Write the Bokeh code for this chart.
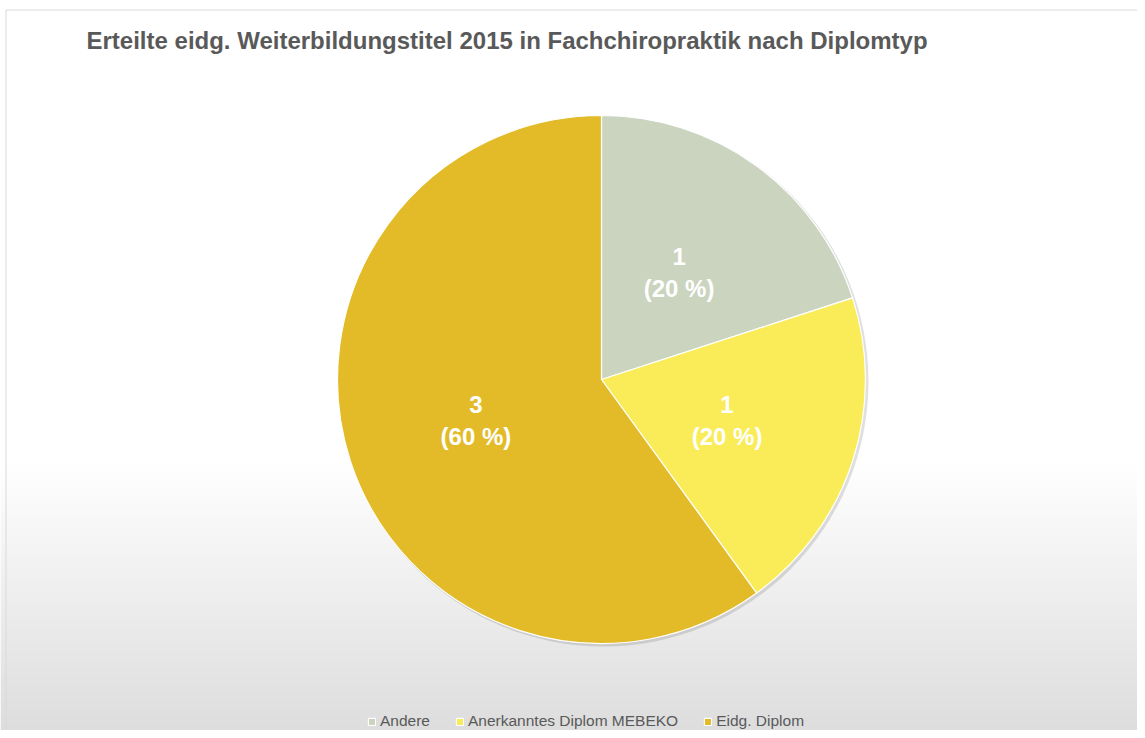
import numpy as np
from bokeh.plotting import figure
from bokeh.models import Range1d, Legend, LegendItem, ColumnDataSource, Label
from bokeh.core.properties import value
from bokeh.embed import file_html
from bokeh.resources import INLINE

# ---- data ----
categories = ["Andere", "Anerkanntes Diplom MEBEKO", "Eidg. Diplom"]
counts = [1, 1, 3]
colors = ["#CAD4BF", "#FAEC58", "#E3BB28"]
title_text = "Erteilte eidg. Weiterbildungstitel 2015 in Fachchiropraktik nach Diplomtyp"

W, H = 1137, 730
p = figure(width=W, height=H, x_range=Range1d(0, W), y_range=Range1d(0, H),
           output_backend="svg", toolbar_location=None, min_border=0,
           match_aspect=False)
p.axis.visible = False
p.xgrid.visible = False
p.ygrid.visible = False
p.outline_line_color = None
p.background_fill_color = "white"
p.border_fill_color = "white"

# background gradient (white at top, fading to light grey at bottom)
n = 400
rows = np.zeros((n, 1), dtype=np.uint32)
view = rows.view(dtype=np.uint8).reshape((n, 1, 4))
for i in range(n):
    frac_from_bottom = i / (n - 1)  # 0 bottom, 1 top
    ys = H * (1 - frac_from_bottom)
    if ys <= 460:
        c = 255
    else:
        t = (ys - 460) / (738 - 460)
        c = int(round(255 - t * (255 - 220)))
    view[i, 0, 0] = c
    view[i, 0, 1] = c
    view[i, 0, 2] = c
    view[i, 0, 3] = 255
p.image_rgba(image=[rows], x=0, y=0, dw=W, dh=H)

# border
p.quad(left=[5.5], right=[W + 5], bottom=[-5], top=[H - 9.5],
       fill_color=None, line_color="#D9D9D9", line_width=1)

# title
p.add_layout(Label(x=86, y=H - 40, text=title_text, text_font="Liberation Sans",
                   text_font_style="bold", text_font_size="24px", text_color="#595959",
                   text_baseline="middle", text_align="left"))

# pie
cx, cy, r = 601, H - 379, 264
vals = np.array(counts, dtype=float)
frac = vals / vals.sum()
ends = np.pi / 2 - 2 * np.pi * np.cumsum(frac)
starts = np.concatenate([[np.pi / 2], ends[:-1]])
mids = (starts + ends) / 2

# subtle shadow
p.circle(x=[cx + 2], y=[cy - 2], radius=r + 1, fill_color="#000000", fill_alpha=0.12,
         line_color=None)

src = ColumnDataSource(dict(start=ends, end=starts, color=colors, cat=categories))
wedges = p.wedge(x=cx, y=cy, radius=r, start_angle="start", end_angle="end",
                 fill_color="color", line_color="white", line_width=1.2, source=src)

labels = [f"{c}\n({f*100:.0f} %)" for c, f in zip(counts, frac)]
p.text(x=cx + 0.5 * r * np.cos(mids), y=cy + 0.5 * r * np.sin(mids), text=labels,
       text_font=value("Liberation Sans"), text_font_style="bold", text_font_size="24px",
       text_color="white", text_align="center", text_baseline="middle")

# legend
items = [LegendItem(label=c, renderers=[wedges], index=i) for i, c in enumerate(categories)]
legend = Legend(items=items, orientation="horizontal", location=(367, 0),
                background_fill_alpha=0, border_line_color=None,
                label_text_font="Liberation Sans", label_text_font_size="15.5px",
                label_text_color="#595959", glyph_width=9, glyph_height=9,
                label_standoff=4, spacing=25, padding=0, margin=0)
p.add_layout(legend, "center")

open("out.html", "w").write(file_html(p, INLINE))
